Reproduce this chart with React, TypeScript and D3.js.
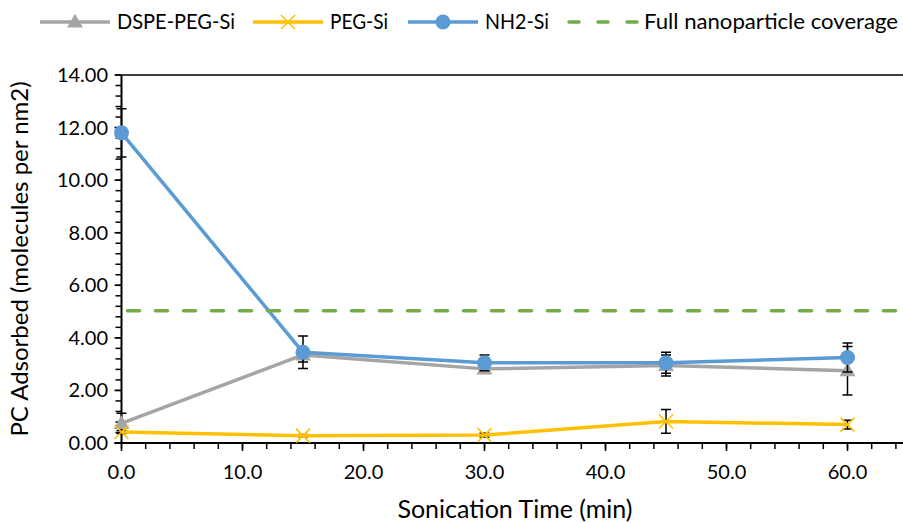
import React, { useRef, useEffect } from "react";
import * as d3 from "d3";

const times = [0, 15, 30, 45, 60];
const dspeValues = [0.75, 3.35, 2.82, 2.95, 2.75];
const dspeErrors = [0.38, 0.27, 0.1, 0.4, 0.92];
const pegValues = [0.42, 0.28, 0.3, 0.82, 0.7];
const pegErrors = [0.06, 0.04, 0.07, 0.45, 0.17];
const nh2Values = [11.8, 3.45, 3.05, 3.05, 3.25];
const nh2Errors = [0.92, 0.62, 0.3, 0.4, 0.55];
const fullCoverage = 5.03;
const yTicks = [0, 2, 4, 6, 8, 10, 12, 14];
const xTicks = [0, 10, 20, 30, 40, 50, 60];
const legendNames = ["DSPE-PEG-Si", "PEG-Si", "NH2-Si", "Full nanoparticle coverage"];

const FONT = "Lato, 'Noto Sans', sans-serif";

const App = () => {
  const svgRef = useRef<SVGSVGElement>(null);

  useEffect(() => {
    const width = 903;
    const height = 523;
    const svg = d3.select(svgRef.current).attr("width", width).attr("height", height);
    svg.selectAll("*").remove();

    const x = d3.scaleLinear().domain([0, 65]).range([121.5, 908]);
    const y = d3.scaleLinear().domain([0, 14]).range([443, 75]);

    const series = [
      { values: dspeValues, errors: dspeErrors, color: "#A5A5A5", marker: "triangle" },
      { values: pegValues, errors: pegErrors, color: "#FFC000", marker: "x" },
      { values: nh2Values, errors: nh2Errors, color: "#5B9BD5", marker: "circle" },
    ];

    // top border
    svg.append("line")
      .attr("x1", x(0)).attr("x2", width)
      .attr("y1", y(14)).attr("y2", y(14))
      .attr("stroke", "#000").attr("stroke-width", 1.5);

    // y axis with minor ticks
    const yAxis = svg.append("g");
    yAxis.append("line")
      .attr("x1", x(0)).attr("x2", x(0)).attr("y1", y(0)).attr("y2", y(14))
      .attr("stroke", "#000").attr("stroke-width", 2);
    yAxis.selectAll("line.minor")
      .data(d3.range(0, 14.01, 0.4))
      .join("line")
      .attr("class", "minor")
      .attr("x1", x(0) - 6).attr("x2", x(0))
      .attr("y1", (d) => y(d)).attr("y2", (d) => y(d))
      .attr("stroke", "#000").attr("stroke-width", 1.5);
    yAxis.selectAll("line.major")
      .data(yTicks)
      .join("line")
      .attr("class", "major")
      .attr("x1", x(0) - 7).attr("x2", x(0))
      .attr("y1", (d) => y(d)).attr("y2", (d) => y(d))
      .attr("stroke", "#000").attr("stroke-width", 1.5);
    yAxis.selectAll("text")
      .data(yTicks)
      .join("text")
      .attr("x", 108)
      .attr("y", (d) => y(d) + 7)
      .attr("text-anchor", "end")
      .attr("font-family", FONT)
      .attr("font-size", 20)
      .attr("fill", "#000")
      .text((d) => d.toFixed(2));

    // x axis with minor ticks
    const xAxis = svg.append("g");
    xAxis.append("line")
      .attr("x1", x(0) - 7).attr("x2", width).attr("y1", y(0)).attr("y2", y(0))
      .attr("stroke", "#000").attr("stroke-width", 2);
    xAxis.selectAll("line.minor")
      .data(d3.range(0, 65, 2))
      .join("line")
      .attr("class", "minor")
      .attr("x1", (d) => x(d)).attr("x2", (d) => x(d))
      .attr("y1", y(0)).attr("y2", y(0) + 6)
      .attr("stroke", "#000").attr("stroke-width", 1.5);
    xAxis.selectAll("line.major")
      .data(xTicks)
      .join("line")
      .attr("class", "major")
      .attr("x1", (d) => x(d)).attr("x2", (d) => x(d))
      .attr("y1", y(0)).attr("y2", y(0) + 8)
      .attr("stroke", "#000").attr("stroke-width", 1.5);
    xAxis.selectAll("text")
      .data(xTicks)
      .join("text")
      .attr("x", (d) => x(d))
      .attr("y", 479)
      .attr("text-anchor", "middle")
      .attr("font-family", FONT)
      .attr("font-size", 20)
      .attr("fill", "#000")
      .text((d) => d.toFixed(1));

    // axis titles
    svg.append("text")
      .attr("x", 515).attr("y", 518)
      .attr("text-anchor", "middle")
      .attr("font-family", FONT).attr("font-size", 25)
      .text("Sonication Time (min)");
    svg.append("text")
      .attr("transform", `translate(28, ${y(7)}) rotate(-90)`)
      .attr("text-anchor", "middle")
      .attr("font-family", FONT).attr("font-size", 24)
      .text("PC Adsorbed (molecules per nm2)");

    const line = d3.line<number>()
      .x((_, i) => x(times[i]))
      .y((d) => y(d));

    const drawMarker = (g, marker, color, cx, cy) => {
      if (marker === "circle") {
        g.append("circle").attr("cx", cx).attr("cy", cy).attr("r", 7.5).attr("fill", color);
      } else if (marker === "triangle") {
        g.append("path")
          .attr("d", d3.symbol(d3.symbolTriangle, 110)())
          .attr("transform", `translate(${cx},${cy + 1})`)
          .attr("fill", color);
      } else {
        g.append("path")
          .attr("d", `M${cx - 7},${cy - 7}L${cx + 7},${cy + 7}M${cx - 7},${cy + 7}L${cx + 7},${cy - 7}`)
          .attr("stroke", color).attr("stroke-width", 1.5).attr("fill", "none");
      }
    };

    series.forEach((s) => {
      const g = svg.append("g");
      // error bars
      s.values.forEach((v, i) => {
        const cx = x(times[i]);
        const e = s.errors[i];
        g.append("path")
          .attr("d", `M${cx},${y(v - e)}V${y(v + e)}M${cx - 5},${y(v + e)}H${cx + 5}M${cx - 5},${y(v - e)}H${cx + 5}`)
          .attr("stroke", "#000").attr("stroke-width", 1.5).attr("fill", "none");
      });
      g.append("path")
        .datum(s.values)
        .attr("d", line)
        .attr("fill", "none")
        .attr("stroke", s.color)
        .attr("stroke-width", 3.5)
        .attr("stroke-linejoin", "round");
      s.values.forEach((v, i) => drawMarker(g, s.marker, s.color, x(times[i]), y(v)));
    });

    // full coverage line
    svg.append("line")
      .attr("x1", x(0)).attr("x2", width)
      .attr("y1", y(fullCoverage)).attr("y2", y(fullCoverage))
      .attr("stroke", "#70AD47").attr("stroke-width", 3.5)
      .attr("stroke-dasharray", "12 16").attr("stroke-linecap", "round")
      .attr("stroke-dashoffset", -6);

    // legend
    const legendLayout = [
      { color: "#A5A5A5", marker: "triangle", x0: 40, tw: 118 },
      { color: "#FFC000", marker: "x", x0: 253, tw: 58 },
      { color: "#5B9BD5", marker: "circle", x0: 408, tw: 64 },
      { color: "#70AD47", marker: "dash", x0: 567, tw: 254 },
    ];
    const ly = 22;
    legendLayout.forEach((item, i) => {
      const g = svg.append("g");
      if (item.marker === "dash") {
        g.append("line")
          .attr("x1", item.x0 + 2).attr("x2", item.x0 + 70)
          .attr("y1", ly).attr("y2", ly)
          .attr("stroke", item.color).attr("stroke-width", 3.5)
          .attr("stroke-dasharray", "10 19").attr("stroke-linecap", "round");
      } else {
        g.append("line")
          .attr("x1", item.x0).attr("x2", item.x0 + 70)
          .attr("y1", ly).attr("y2", ly)
          .attr("stroke", item.color).attr("stroke-width", 3.5);
        drawMarker(g, item.marker, item.color, item.x0 + 35, ly);
      }
      g.append("text")
        .attr("x", item.x0 + 77).attr("y", ly + 7)
        .attr("font-family", FONT).attr("font-size", 21)
        .attr("textLength", item.tw)
        .attr("lengthAdjust", "spacingAndGlyphs")
        .text(legendNames[i]);
    });
  }, []);

  return <svg ref={svgRef} style={{ position: "absolute", left: 0, top: 0 }}></svg>;
};

export default App;
